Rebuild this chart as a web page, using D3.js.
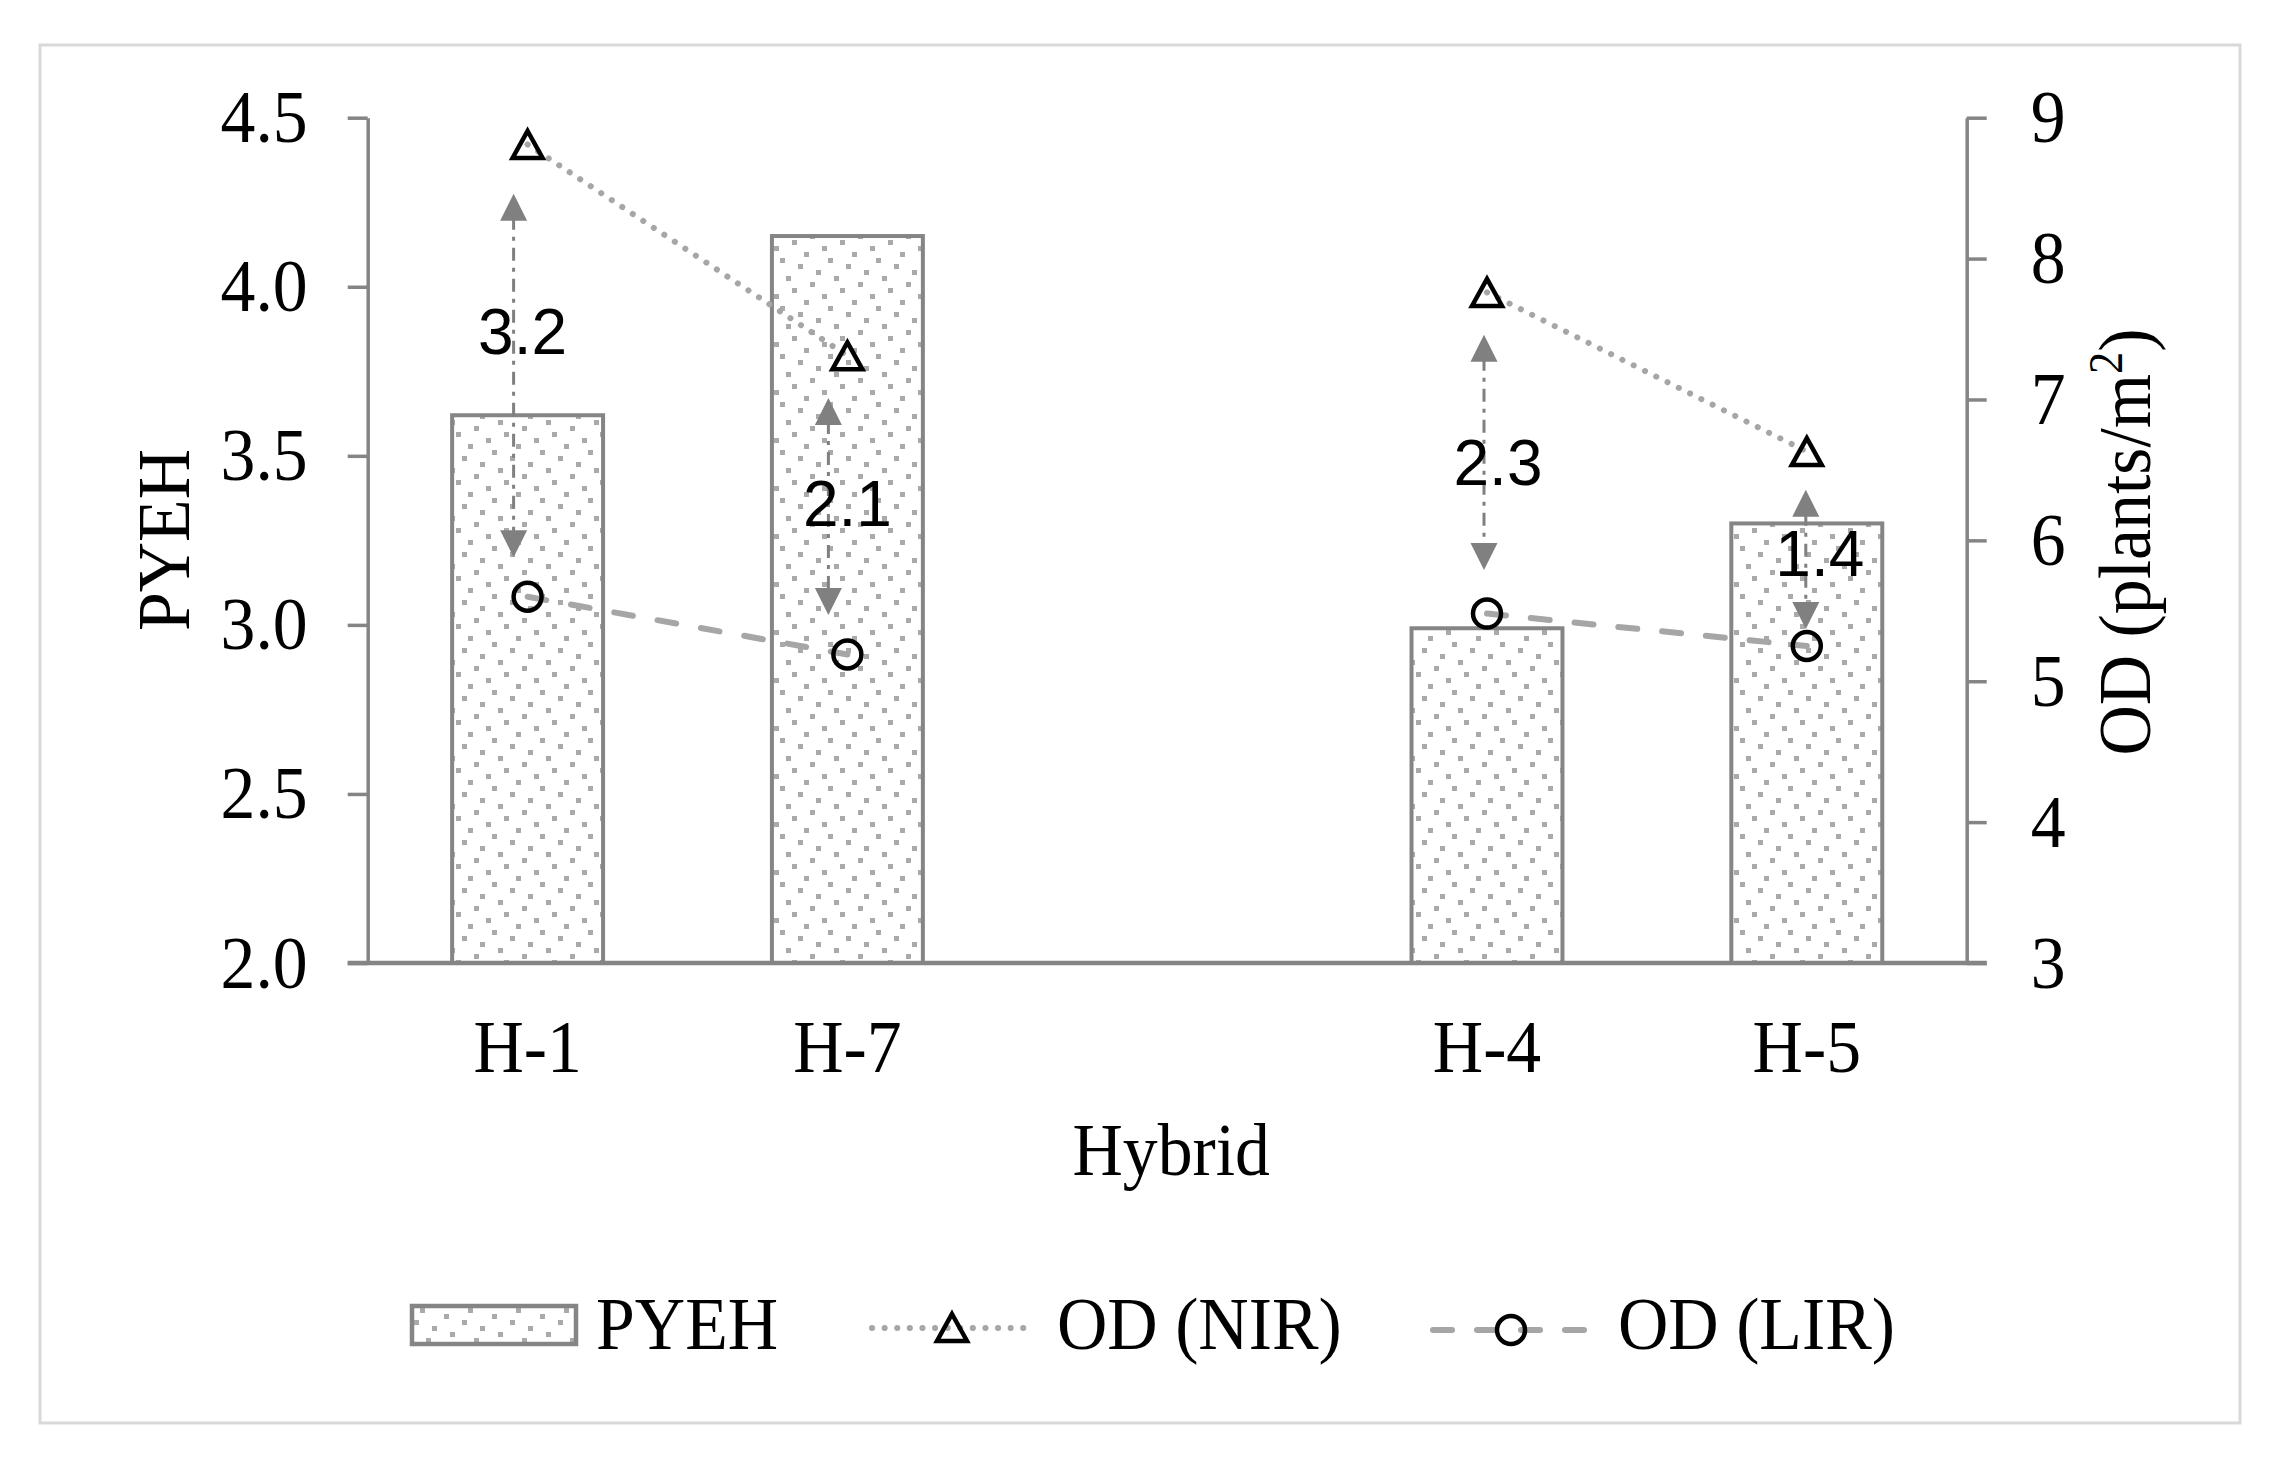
<!DOCTYPE html>
<html>
<head>
<meta charset="utf-8">
<script src="https://cdn.jsdelivr.net/npm/d3@7"></script>
<style>
  body { margin: 0; background: #fff; }
  svg { display: block; }
</style>
</head>
<body>
<div id="vis"></div>
<script>
// ---- data ----
const categories = ["H-1", "H-7", "", "H-4", "H-5"]
const pyeh = [3.62, 4.15, null, 2.99, 3.30]
const odNIR = [8.81, 7.31, null, 7.76, 6.63]
const odLIR = [5.60, 5.19, null, 5.48, 5.25]
const gapLabels = ["3.2", "2.1", null, "2.3", "1.4"]
// annotation arrows and labels, in OD units
const arrowTop = [8.46, 7.01, null, 7.46, 6.36]
const arrowBottom = [5.88, 5.47, null, 5.79, 5.37]
const labelAt = [7.32, 6.10, null, 6.39, 5.75]
const leftTicks = [2.0, 2.5, 3.0, 3.5, 4.0, 4.5]
const rightTicks = [3, 4, 5, 6, 7, 8, 9]
const legendNames = ["PYEH", "OD (NIR)", "OD (LIR)"]

// ---- layout ----
const width = 2278, height = 1466
const plot = { left: 367.7, right: 1966.7, top: 117.7, bottom: 963 }
const arrowDx = [-14, -19, 0, -3, -1]
const labelDx = [-5, 0, 0, 11, 13]
const serif = "'Liberation Serif', 'Times New Roman', serif"
const axisGrey = "#858585"
const lineGrey = "#a6a6a6"
const fontSize = 75
const squeezeK = 0.93   // the Times text in the figure is a bit narrow

// narrow a text element around its own anchor
function squeeze(sel, base) {
    sel.each(function() {
        const t = d3.select(this)
        if (base) {
            t.attr("transform", `${base} scale(${squeezeK},1)`)
        } else {
            const x = +t.attr("x") || 0
            t.attr("transform", `translate(${x * (1 - squeezeK)},0) scale(${squeezeK},1)`)
        }
    })
}

const svg = d3.select("#vis").append("svg")
    .attr("width", width)
    .attr("height", height)

svg.append("rect")
    .attr("width", width).attr("height", height)
    .attr("fill", "#fff")

// chart frame
svg.append("rect")
    .attr("x", 40).attr("y", 45)
    .attr("width", 2200).attr("height", 1378)
    .attr("fill", "none")
    .attr("stroke", "#d9d9d9")
    .attr("stroke-width", 3)

// dotted fill for the bars
const defs = svg.append("defs")
const pat = defs.append("pattern")
    .attr("id", "dots")
    .attr("patternUnits", "userSpaceOnUse")
    .attr("width", 48).attr("height", 48)
pat.append("rect").attr("width", 48).attr("height", 48).attr("fill", "#fff")
const dotCols = [4, 1, 6, 2, 5, 0, 3, 7]
dotCols.forEach((c, r) => {
    pat.append("rect")
        .attr("x", c * 6).attr("y", r * 6)
        .attr("width", 5).attr("height", 5)
        .attr("fill", "#aaaaaa")
})

// scales
const x = d3.scaleBand()
    .domain(categories.map((c, i) => i))
    .range([plot.left, plot.right])
    .padding(0)
const barW = x.bandwidth() * 0.472
const cx = i => x(i) + x.bandwidth() / 2

const yL = d3.scaleLinear().domain([2, 4.5]).range([plot.bottom, plot.top])
const yR = d3.scaleLinear().domain([3, 9]).range([plot.bottom, plot.top])

const rows = categories.map((c, i) => ({
    i, cat: c, pyeh: pyeh[i], nir: odNIR[i], lir: odLIR[i],
    label: gapLabels[i], top: arrowTop[i], bot: arrowBottom[i], lab: labelAt[i]
}))

// bars
svg.append("g").selectAll("rect")
    .data(rows.filter(d => d.pyeh != null))
    .join("rect")
    .attr("x", d => cx(d.i) - barW / 2)
    .attr("y", d => yL(d.pyeh))
    .attr("width", barW)
    .attr("height", d => yL(2) - yL(d.pyeh))
    .attr("fill", "url(#dots)")
    .attr("stroke", axisGrey)
    .attr("stroke-width", 4)

// axes
function styleAxis(g) {
    g.select(".domain").attr("stroke", axisGrey).attr("stroke-width", 3.5)
    g.selectAll(".tick line").attr("stroke", axisGrey).attr("stroke-width", 3.5)
    g.selectAll(".tick text")
        .attr("fill", "#000")
        .attr("font-family", serif)
        .attr("font-size", fontSize)
}

const leftAxis = svg.append("g")
    .attr("transform", `translate(${plot.left},0)`)
    .call(d3.axisLeft(yL).tickValues(leftTicks).tickFormat(d3.format(".1f"))
        .tickSize(20).tickSizeOuter(0).tickPadding(40))
styleAxis(leftAxis)
leftAxis.selectAll(".tick text").attr("dy", "0.32em").call(squeeze)

const rightAxis = svg.append("g")
    .attr("transform", `translate(${plot.right},0)`)
    .call(d3.axisRight(yR).tickValues(rightTicks).tickFormat(d3.format("d"))
        .tickSize(20).tickSizeOuter(0).tickPadding(44))
styleAxis(rightAxis)
rightAxis.selectAll(".tick text").attr("dy", "0.32em").call(squeeze)

const bottomAxis = svg.append("g")
    .attr("transform", `translate(0,${plot.bottom})`)
    .call(d3.axisBottom(x).tickFormat(i => categories[i]).tickSize(0).tickSizeOuter(0).tickPadding(0))
styleAxis(bottomAxis)
bottomAxis.select(".domain").remove()
bottomAxis.selectAll(".tick text").attr("dy", null).attr("y", 109).call(squeeze)
bottomAxis.append("line")
    .attr("x1", plot.left - 20).attr("x2", plot.right + 20)
    .attr("stroke", axisGrey).attr("stroke-width", 4.5)

// axis titles
svg.append("text")
    .attr("text-anchor", "middle")
    .attr("font-family", serif).attr("font-size", fontSize)
    .text("PYEH")
    .call(squeeze, "translate(189,540) rotate(-90)")

const rt = svg.append("text")
    .attr("text-anchor", "middle")
    .attr("font-family", serif).attr("font-size", fontSize)
rt.append("tspan").text("OD (plants/m")
rt.append("tspan").attr("font-size", 48).attr("dy", -28).text("2")
rt.append("tspan").attr("dy", 28).text(")")
rt.call(squeeze, "translate(2150,542) rotate(-90)")

svg.append("text")
    .attr("x", (plot.left + plot.right) / 2 + 4).attr("y", 1175)
    .attr("text-anchor", "middle")
    .attr("font-family", serif).attr("font-size", fontSize)
    .text("Hybrid")
    .call(squeeze)

// lines (gap at the empty category)
const nirLine = d3.line().defined(d => d.nir != null).x(d => cx(d.i)).y(d => yR(d.nir))
const lirLine = d3.line().defined(d => d.lir != null).x(d => cx(d.i)).y(d => yR(d.lir))

svg.append("path")
    .attr("d", nirLine(rows))
    .attr("fill", "none")
    .attr("stroke", lineGrey)
    .attr("stroke-width", 6)
    .attr("stroke-linecap", "round")
    .attr("stroke-dasharray", "0.1,12.5")

svg.append("path")
    .attr("d", lirLine(rows))
    .attr("fill", "none")
    .attr("stroke", lineGrey)
    .attr("stroke-width", 6)
    .attr("stroke-linecap", "round")
    .attr("stroke-dasharray", "19,25")

// gap arrows
const arrowColor = "#808080"
const head = 27
const ag = svg.append("g")
rows.filter(d => d.top != null).forEach(d => {
    const ax = cx(d.i) + arrowDx[d.i]
    const y1 = yR(d.top), y2 = yR(d.bot)
    ag.append("line")
        .attr("x1", ax).attr("x2", ax)
        .attr("y1", y1 + head - 4).attr("y2", y2 - head + 4)
        .attr("stroke", arrowColor)
        .attr("stroke-width", 3)
        .attr("stroke-dasharray", "13,7,4,7")
    ag.append("path")
        .attr("d", `M${ax},${y1} L${ax - head / 2},${y1 + head} L${ax + head / 2},${y1 + head} Z`)
        .attr("fill", arrowColor)
    ag.append("path")
        .attr("d", `M${ax},${y2} L${ax - head / 2},${y2 - head} L${ax + head / 2},${y2 - head} Z`)
        .attr("fill", arrowColor)
})

svg.append("g").selectAll("text")
    .data(rows.filter(d => d.label != null))
    .join("text")
    .attr("x", d => cx(d.i) + labelDx[d.i])
    .attr("y", d => yR(d.lab))
    .attr("text-anchor", "middle")
    .attr("font-family", "'Liberation Sans', Arial, sans-serif")
    .attr("font-size", 64)
    .attr("fill", "#000")
    .text(d => d.label)

// markers
const triPath = "M0,-15 L15,12 L-15,12 Z"
svg.append("g").selectAll("path")
    .data(rows.filter(d => d.nir != null))
    .join("path")
    .attr("transform", d => `translate(${cx(d.i)},${yR(d.nir) + 1.5})`)
    .attr("d", triPath)
    .attr("fill", "none")
    .attr("stroke", "#000")
    .attr("stroke-width", 4.5)

svg.append("g").selectAll("circle")
    .data(rows.filter(d => d.lir != null))
    .join("circle")
    .attr("cx", d => cx(d.i))
    .attr("cy", d => yR(d.lir))
    .attr("r", 14)
    .attr("fill", "none")
    .attr("stroke", "#000")
    .attr("stroke-width", 4.5)

// legend
const legY = 1325
const legend = svg.append("g")
legend.append("rect")
    .attr("x", 412).attr("y", legY - 19)
    .attr("width", 164).attr("height", 38)
    .attr("fill", "url(#dots)")
    .attr("stroke", axisGrey).attr("stroke-width", 4.5)

legend.append("line")
    .attr("x1", 872).attr("x2", 1030).attr("y1", legY + 3).attr("y2", legY + 3)
    .attr("stroke", lineGrey).attr("stroke-width", 6)
    .attr("stroke-linecap", "round").attr("stroke-dasharray", "0.1,12.5")
legend.append("path")
    .attr("transform", `translate(952,${legY + 4})`)
    .attr("d", triPath)
    .attr("fill", "none").attr("stroke", "#000").attr("stroke-width", 4.5)

legend.append("line")
    .attr("x1", 1433).attr("x2", 1590).attr("y1", legY + 5).attr("y2", legY + 5)
    .attr("stroke", lineGrey).attr("stroke-width", 6)
    .attr("stroke-linecap", "round").attr("stroke-dasharray", "19,25")
legend.append("circle")
    .attr("cx", 1511).attr("cy", legY + 5).attr("r", 14)
    .attr("fill", "none").attr("stroke", "#000").attr("stroke-width", 4.5)

const legTextX = [596, 1057, 1618]
legendNames.forEach((n, k) => {
    legend.append("text")
        .attr("x", legTextX[k]).attr("y", 1349)
        .attr("font-family", serif).attr("font-size", fontSize)
        .text(n)
        .call(squeeze)
})
</script>
</body>
</html>
